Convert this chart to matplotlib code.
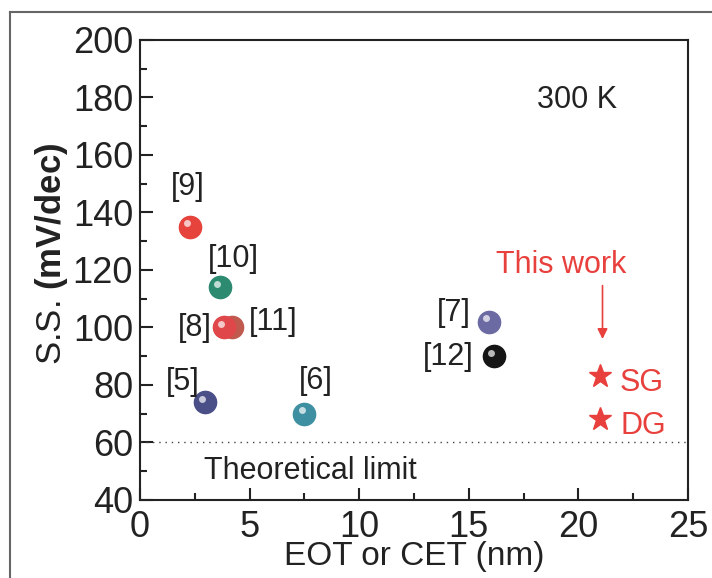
import matplotlib
matplotlib.use("Agg")
import matplotlib.pyplot as plt
from matplotlib.lines import Line2D

plt.rcParams['font.family'] = ['Liberation Sans', 'DejaVu Sans']
plt.rcParams['mathtext.fontset'] = 'custom'
plt.rcParams['mathtext.rm'] = 'Liberation Sans'
plt.rcParams['mathtext.bf'] = 'Liberation Sans:bold'

# reference points: label, EOT/CET (nm), S.S. (mV/dec), colour
refs = ['[9]', '[10]', '[11]', '[8]', '[5]', '[6]', '[7]', '[12]']
eot = [2.28, 3.65, 4.2, 3.83, 2.97, 7.5, 15.9, 16.15]
ss = [135, 114, 100, 100, 74, 70, 102, 90]
colors = ['#e5433b', '#2b8a70', '#c05a4e', '#e0474a', '#4b4f88', '#3f8fa2', '#6b6aa3', '#151515']
# label positions
lab_x = [2.19, 4.25, 6.07, 2.5, 1.96, 8.0, 14.3, 14.06]
lab_y = [148.9, 123.8, 102, 99.8, 81, 81.4, 105, 89.7]

# this work
tw_names = ['SG', 'DG']
tw_eot = [21.0, 21.0]
tw_ss = [83, 68]

red = '#e8403c'
ink = '#222222'

fig = plt.figure(figsize=(7.12, 5.78), dpi=100)
ax = fig.add_axes([0.1966, 0.135, 0.7697, 0.796])

# outer frame
fig.add_artist(Line2D([0.014, 1.0], [0.979, 0.979], transform=fig.transFigure, color='#666666', lw=1.5))
fig.add_artist(Line2D([0.014, 0.014], [0.979, 0.0], transform=fig.transFigure, color='#666666', lw=1.5))

ax.plot([0, 25], [60, 60], linestyle=(0, (1, 3.5)), color='#444444', lw=1.0)

# shaded balls
for x, y, c in zip(eot, ss, colors):
    ax.plot(x, y, 'o', ms=16, color=c, mec=c, zorder=3)
    ax.plot(x - 0.12, y + 1.2, 'o', ms=5, color='white', mec='none', alpha=0.7, zorder=3)

for t, x, y in zip(refs, lab_x, lab_y):
    ax.text(x, y, t, fontsize=22, ha='center', va='center', color=ink)

ax.plot(tw_eot, tw_ss, '*', ms=17, color=red, mec=red, zorder=3)
for n, x, y in zip(tw_names, tw_eot, tw_ss):
    ax.text(21.9, y - 2.3, n, fontsize=22, ha='left', va='center', color=red)

ax.text(19.2, 121.7, 'This work', fontsize=22, ha='center', va='center', color=red)
ax.annotate('', xy=(21.1, 95.0), xytext=(21.1, 115.5),
            arrowprops=dict(arrowstyle='-|>', color=red, lw=1.2, mutation_scale=15))

ax.text(19.95, 179, '300 K', fontsize=22, ha='center', va='center', color=ink)
ax.text(7.76, 50, 'Theoretical limit', fontsize=22, ha='center', va='center', color=ink)

ax.set_xlim(0, 25)
ax.set_ylim(40, 200)
ax.set_xticks([0, 5, 10, 15, 20, 25])
ax.set_yticks(range(40, 201, 20))
ax.set_xticks([2.5, 7.5, 12.5, 17.5, 22.5], minor=True)
ax.set_yticks(range(50, 200, 20), minor=True)
ax.tick_params(which='both', direction='in', top=False, right=False, labelsize=26, width=1.5, color=ink, labelcolor=ink)
ax.tick_params(which='major', length=9)
ax.tick_params(which='minor', length=5)
ax.tick_params(axis='x', which='major', pad=7)
ax.tick_params(axis='y', which='major', pad=5)
for s in ax.spines.values():
    s.set_linewidth(1.5)
    s.set_color(ink)

ax.set_xlabel('EOT or CET (nm)', fontsize=24, color=ink)
ax.set_ylabel(r'S.S. $\mathbf{(mV/dec)}$', fontsize=25, color=ink)
ax.xaxis.set_label_coords(0.5, -0.09)
ax.yaxis.set_label_coords(-0.128, 0.535)

fig.savefig('out.png', dpi=100)
